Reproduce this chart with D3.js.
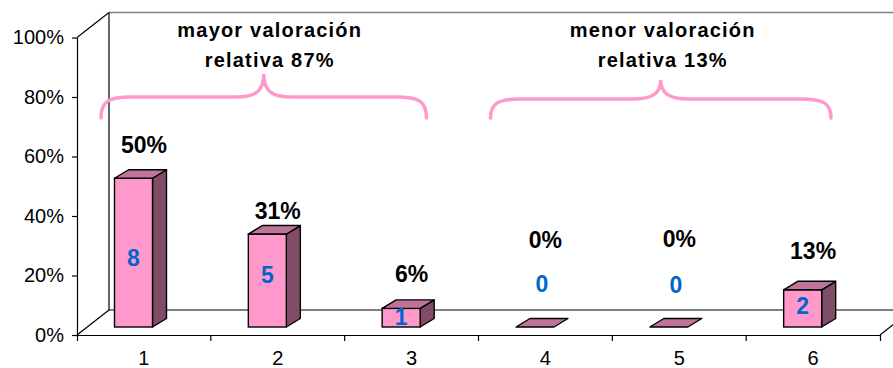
<!DOCTYPE html>
<html>
<head>
<meta charset="utf-8">
<script src="https://cdn.jsdelivr.net/npm/d3@7"></script>
<style>
  html, body { margin: 0; padding: 0; background: #fff; }
  svg { display: block; font-family: "Liberation Sans", Arial, sans-serif; }
</style>
</head>
<body>
<svg id="chart" width="893" height="368"></svg>
<script>
// ---- data ----
const categories = ["1", "2", "3", "4", "5", "6"];
const counts = [8, 5, 1, 0, 0, 2];
const yTicks = [0, 0.2, 0.4, 0.6, 0.8, 1.0];
const groupLines = [["mayor valoración", "relativa 87%"], ["menor valoración", "relativa 13%"]];
const groupFrom = ["1", "4"];
const groupTo = ["3", "6"];

// ---- layout (style only) ----
const pctLabelDy = [-25.5, -14.7, -26.7, -78.7, -80.3, -30.5];   // offsets of % labels above bar top
const cntLabelDy = [87.7, 49.3, 16.6, -35.3, -33.7, 24.2];        // offsets of count labels from bar top
const braceInset = [[24, 52], [12, 49]];
const headerShift = [6, 2];

const total = d3.sum(counts);
const shares = counts.map(c => c / total);

const svg = d3.select("#chart");
const W = 893;
const x = d3.scaleBand().domain(categories).range([77, 880]).padding(0);
const y = d3.scaleLinear().domain([0, 1]).range([335, 37.5]);

const depthX = 32, depthY = -25;          // floor depth
const barInset = 37.5, barW = 38, lift = 8, bdx = 14, bdy = -8.5;

const x0 = x.range()[0], x1 = x.range()[1];
const yb = y(0), yt = y(1);

// ---- walls / floor ----
const g = svg.append("g");
g.append("line").attr("x1", x0 + depthX).attr("x2", W).attr("y1", yt + depthY).attr("y2", yt + depthY)
  .attr("stroke", "#808080").attr("stroke-width", 1.6);
g.append("line").attr("x1", x0 + depthX).attr("x2", x0 + depthX).attr("y1", yt + depthY).attr("y2", yb + depthY)
  .attr("stroke", "#000").attr("stroke-width", 1.2);
g.append("line").attr("x1", x0 + depthX).attr("x2", W).attr("y1", yb + depthY).attr("y2", yb + depthY)
  .attr("stroke", "#000").attr("stroke-width", 1.2);
[[x0, yt], [x0, yb]].forEach(([a, b]) => {
  g.append("line").attr("x1", a).attr("y1", b).attr("x2", a + depthX).attr("y2", b + depthY)
    .attr("stroke", "#000").attr("stroke-width", 1.2);
});
g.append("line").attr("x1", x1).attr("y1", yb).attr("x2", x1 + depthX).attr("y2", yb + depthY)
  .attr("stroke", "#000").attr("stroke-width", 1.2);

// ---- axes ----
const yAxis = d3.axisLeft(y).tickValues(yTicks).tickFormat(d3.format(".0%"))
  .tickSize(5).tickSizeOuter(0).tickPadding(8);
const ya = svg.append("g").attr("transform", `translate(${x0},0)`).call(yAxis);
ya.selectAll("text").attr("font-size", 20).attr("fill", "#000").attr("font-family", "Liberation Sans, Arial, sans-serif");
ya.selectAll("line,path").attr("stroke", "#000").attr("stroke-width", 1.2);

const xAxis = d3.axisBottom(x).tickSize(0).tickSizeOuter(6).tickPadding(16);
const xa = svg.append("g").attr("transform", `translate(0,${yb})`).call(xAxis);
xa.selectAll("text").attr("font-size", 20).attr("fill", "#000").attr("font-family", "Liberation Sans, Arial, sans-serif");
xa.selectAll("line,path").attr("stroke", "#000").attr("stroke-width", 1.2);
xa.selectAll(".tick-b").data(categories.slice(1)).enter().append("line")
  .attr("x1", d => x(d)).attr("x2", d => x(d)).attr("y1", 0).attr("y2", 6)
  .attr("stroke", "#000").attr("stroke-width", 1.2);

// ---- bars ----
const bars = svg.append("g").selectAll("g").data(categories).enter().append("g");
bars.each(function (c, i) {
  const sel = d3.select(this);
  const fx = x(c) + barInset;
  const base = y(0) - lift;
  const top = y(shares[i]) - lift;
  const pts = a => a.map(p => p.join(",")).join(" ");
  if (shares[i] > 0) {
    sel.append("polygon")
      .attr("points", pts([[fx + barW, top], [fx + barW + bdx, top + bdy], [fx + barW + bdx, base + bdy], [fx + barW, base]]))
      .attr("fill", "#804D66").attr("stroke", "#000").attr("stroke-width", 1.4).attr("stroke-linejoin", "round");
    sel.append("rect").attr("x", fx).attr("y", top).attr("width", barW).attr("height", base - top)
      .attr("fill", "#FF99CC").attr("stroke", "#000").attr("stroke-width", 1.4);
  }
  sel.append("polygon")
    .attr("points", pts([[fx, top], [fx + bdx, top + bdy], [fx + barW + bdx, top + bdy], [fx + barW, top]]))
    .attr("fill", "#BF7399").attr("stroke", "#000").attr("stroke-width", 1.4).attr("stroke-linejoin", "round");

  const cx = shares[i] > 0 ? fx + barW / 2 : fx + barW / 2 + bdx / 2;
  sel.append("text").attr("x", cx).attr("y", top + cntLabelDy[i])
    .attr("text-anchor", "middle").attr("font-size", 23).attr("font-weight", "bold")
    .attr("fill", "#0066CC").text(counts[i]);
  sel.append("text").attr("x", x(c) + x.bandwidth() / 2).attr("y", top + pctLabelDy[i])
    .attr("text-anchor", "middle").attr("font-size", 23).attr("font-weight", "bold")
    .attr("fill", "#000").text(d3.format(".0%")(shares[i]));
});

// ---- braces & group headers ----
groupLines.forEach((lines, k) => {
  const bx0 = x(groupFrom[k]) + braceInset[k][0];
  const bx1 = x(groupTo[k]) + x.bandwidth() - braceInset[k][1];
  const m = (bx0 + bx1) / 2;
  const yEnd = 118, yH = 97 + k * 2, yPk = 74 + k * 6;
  const p = d3.path();
  p.moveTo(bx0, yEnd);
  p.bezierCurveTo(bx0, yH + 4, bx0 + 8, yH, bx0 + 30, yH);
  p.lineTo(m - 28, yH);
  p.bezierCurveTo(m - 8, yH, m, yH - 6, m, yPk);
  p.bezierCurveTo(m, yH - 6, m + 8, yH, m + 28, yH);
  p.lineTo(bx1 - 30, yH);
  p.bezierCurveTo(bx1 - 8, yH, bx1, yH + 4, bx1, yEnd);
  svg.append("path").attr("d", p.toString()).attr("fill", "none")
    .attr("stroke", "#FF99CC").attr("stroke-width", 3.5).attr("stroke-linecap", "round");
  lines.forEach((t, j) => {
    svg.append("text").attr("x", m + headerShift[k]).attr("y", 36.5 + j * 30.5)
      .attr("text-anchor", "middle").attr("font-size", 20).attr("font-weight", "bold")
      .attr("letter-spacing", 1.2).attr("fill", "#000").text(t);
  });
});
</script>
</body>
</html>
